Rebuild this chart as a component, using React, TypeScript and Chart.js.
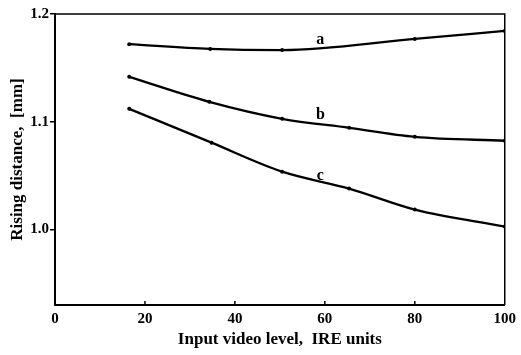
import React, { useEffect, useRef } from "react";
import { Chart, registerables } from "chart.js";

Chart.register(...registerables);

const xA = [16.5, 34.5, 50.5, 80, 100];
const yA = [1.172, 1.1676, 1.1665, 1.1769, 1.1843];
const xB = [16.5, 34.3, 50.5, 65.4, 80, 100];
const yB = [1.1417, 1.1185, 1.1028, 1.0944, 1.086, 1.0824];
const xC = [16.5, 34.8, 50.5, 65.4, 80, 100];
const yC = [1.112, 1.0806, 1.0537, 1.038, 1.0185, 1.0028];
const curveNames = ["a", "b", "c"];
const labelX = [59, 59, 59];
const labelY = [1.176, 1.1065, 1.05];
const yTicks = [1.0, 1.1, 1.2];
const xTicks = [0, 20, 40, 60, 80, 100];
const xTitle = "Input video level,  IRE units";
const yTitle = "Rising distance,  [mm]";

const FONT = "'Liberation Serif', 'DejaVu Serif', serif";

const toPts = (xs: number[], ys: number[]) => xs.map((x, i) => ({ x, y: ys[i] }));

const decor = {
  id: "decor",
  afterDraw(chart: any) {
    const { ctx, chartArea, scales } = chart;
    const xs = scales.x;
    const ys = scales.y;
    ctx.save();
    ctx.strokeStyle = "#000";
    ctx.lineWidth = 1.5;
    ctx.beginPath();
    ctx.moveTo(chartArea.left, chartArea.top);
    ctx.lineTo(chartArea.right, chartArea.top);
    ctx.lineTo(chartArea.right, chartArea.bottom);
    ctx.stroke();
    for (const v of xTicks) {
      if (v === 0 || v === 100) continue;
      const px = xs.getPixelForValue(v);
      ctx.beginPath();
      ctx.moveTo(px, chartArea.bottom);
      ctx.lineTo(px, chartArea.bottom - 4);
      ctx.stroke();
    }
    ctx.fillStyle = "#000";
    ctx.font = "bold 16px " + FONT;
    ctx.textAlign = "center";
    ctx.textBaseline = "middle";
    curveNames.forEach((n, i) => {
      ctx.fillText(n, xs.getPixelForValue(labelX[i]), ys.getPixelForValue(labelY[i]));
    });
    ctx.restore();
  },
};

export default function App() {
  const ref = useRef<HTMLCanvasElement>(null);
  useEffect(() => {
    document.body.style.margin = "0";
    const ds = (xs: number[], ys: number[]) => ({
      data: toPts(xs, ys),
      borderColor: "#000",
      backgroundColor: "#000",
      borderWidth: 2.3,
      pointRadius: 2,
      pointBorderWidth: 0,
      cubicInterpolationMode: "monotone",
      fill: false,
    });
    const chart = new Chart(ref.current!, {
      type: "line",
      data: { datasets: [ds(xA, yA), ds(xB, yB), ds(xC, yC)] },
      options: {
        animation: false,
        responsive: false,
        layout: { padding: { left: 0, top: 14, right: 14, bottom: 0 } },
        plugins: { legend: { display: false }, tooltip: { enabled: false } },
        scales: {
          x: {
            type: "linear",
            min: 0,
            max: 100,
            afterBuildTicks: (s: any) => {
              s.ticks = xTicks.map((v) => ({ value: v }));
            },
            afterFit: (s: any) => {
              s.height = 50;
            },
            grid: { display: true, drawOnChartArea: false, drawTicks: false },
            border: { display: true, color: "#000", width: 2 },
            ticks: {
              color: "#000",
              padding: 5,
              maxRotation: 0,
              font: { family: FONT, size: 15, weight: "bold" },
            },
            title: {
              display: true,
              text: xTitle,
              color: "#000",
              font: { family: FONT, size: 17, weight: "bold" },
              padding: { top: 0, bottom: 5 },
            },
          },
          y: {
            type: "linear",
            min: 0.93,
            max: 1.2,
            afterBuildTicks: (s: any) => {
              s.ticks = yTicks.map((v) => ({ value: v }));
            },
            afterFit: (s: any) => {
              s.width = 55;
            },
            grid: { display: true, drawOnChartArea: false, drawTicks: true, tickLength: 5, color: "#000", lineWidth: 1.5 },
            border: { display: true, color: "#000", width: 2 },
            ticks: {
              color: "#000",
              padding: 1,
              callback: (v: any) => Number(v).toFixed(1),
              font: { family: FONT, size: 15, weight: "bold" },
            },
            title: {
              display: true,
              text: yTitle,
              color: "#000",
              font: { family: FONT, size: 17, weight: "bold" },
              padding: { top: 7, bottom: 0 },
            },
          },
        },
      },
      plugins: [decor],
    } as any);
    return () => chart.destroy();
  }, []);
  return (
    <div style={{ width: 521, height: 355, background: "#fff" }}>
      <canvas ref={ref} width={521} height={355} style={{ width: 521, height: 355, display: "block" }} />
    </div>
  );
}
